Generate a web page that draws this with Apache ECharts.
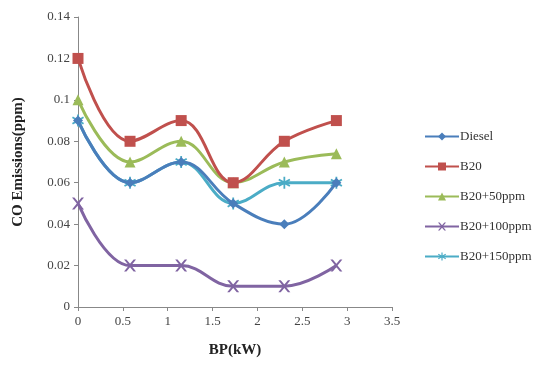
<!DOCTYPE html>
<html>
<head>
<meta charset="utf-8">
<script src="https://cdn.jsdelivr.net/npm/echarts@6/dist/echarts.min.js"></script>
<style>
html,body{margin:0;padding:0;background:#fff;}
#main{width:554px;height:368px;}
</style>
</head>
<body>
<div id="main"></div>
<script>
var bp = [0, 0.58, 1.15, 1.73, 2.3, 2.88];
var diesel = [0.09, 0.06, 0.07, 0.05, 0.04, 0.06];
var b20 = [0.12, 0.08, 0.09, 0.06, 0.08, 0.09];
var b20_50 = [0.1, 0.07, 0.08, 0.06, 0.07, 0.074];
var b20_100 = [0.05, 0.02, 0.02, 0.01, 0.01, 0.02];
var b20_150 = [0.09, 0.06, 0.07, 0.05, 0.06, 0.06];
var names = ['Diesel', 'B20', 'B20+50ppm', 'B20+100ppm', 'B20+150ppm'];
var colors = ['#4a7ebb', '#c0504d', '#9bbb59', '#8064a2', '#4bacc6'];

var xMark = 'path://M0,0L2,0L5,3.5L8,0L10,0L6,5L10,10L8,10L5,6.5L2,10L0,10L4,5Z';
var starMark = 'path://M4.3,0L5.7,0L5.7,3.6L9,1.7L9.7,2.9L6.4,5L9.7,7.1L9,8.3L5.7,6.4L5.7,10L4.3,10L4.3,6.4L1,8.3L0.3,7.1L3.6,5L0.3,2.9L1,1.7L4.3,3.6Z';
var symbols = ['diamond', 'rect', 'triangle', xMark, starMark];
var sizes = [10, 11, 11, 12, 12];
var allData = [diesel, b20, b20_50, b20_100, b20_150];

function pairs(arr){
	var out = [];
	for (var i = 0; i < arr.length; i++) {
		out.push([bp[i], arr[i]]);
	}
	return out;
}

var series = [];
for (var i = 0; i < allData.length; i++) {
	series.push({
		name: names[i],
		type: 'line',
		smooth: 0.4,
		data: pairs(allData[i]),
		symbol: symbols[i],
		symbolSize: sizes[i],
		showAllSymbol: true,
		lineStyle: {color: colors[i], width: 3},
		itemStyle: {color: colors[i]},
		z: 10 - i
	});
}

var myChart = echarts.init(document.getElementById('main'));
var axisFont = {fontFamily: 'Liberation Serif', fontSize: 13, color: '#444'};
var option = {
	animation: false,
	backgroundColor: '#fff',
	grid: {left: 78, right: 162, top: 17, bottom: 61},
	legend: {
		orient: 'vertical',
		left: 419,
		top: 125,
		itemGap: 17,
		itemWidth: 34,
		itemHeight: 10,
		data: names,
		textStyle: {fontFamily: 'Liberation Serif', fontSize: 13, color: '#333', padding: [0, 0, 0, -4]}
	},
	xAxis: {
		type: 'value',
		min: 0,
		max: 3.5,
		interval: 0.5,
		name: 'BP(kW)',
		nameLocation: 'middle',
		nameGap: 36,
		nameTextStyle: {fontFamily: 'Liberation Serif', fontSize: 15, fontWeight: 'bold', color: '#222'},
		axisLine: {lineStyle: {color: '#888'}},
		axisTick: {show: true, length: 4, lineStyle: {color: '#888'}},
		axisLabel: axisFont,
		splitLine: {show: false}
	},
	yAxis: {
		type: 'value',
		min: 0,
		max: 0.14,
		interval: 0.02,
		name: 'CO Emissions(ppm)',
		nameLocation: 'middle',
		nameGap: 52,
		nameTextStyle: {fontFamily: 'Liberation Serif', fontSize: 15, fontWeight: 'bold', color: '#222'},
		axisLine: {show: true, lineStyle: {color: '#888'}},
		axisTick: {show: true, length: 4, lineStyle: {color: '#888'}},
		axisLabel: axisFont,
		splitLine: {show: false}
	},
	series: series
};
myChart.setOption(option);
</script>
</body>
</html>
